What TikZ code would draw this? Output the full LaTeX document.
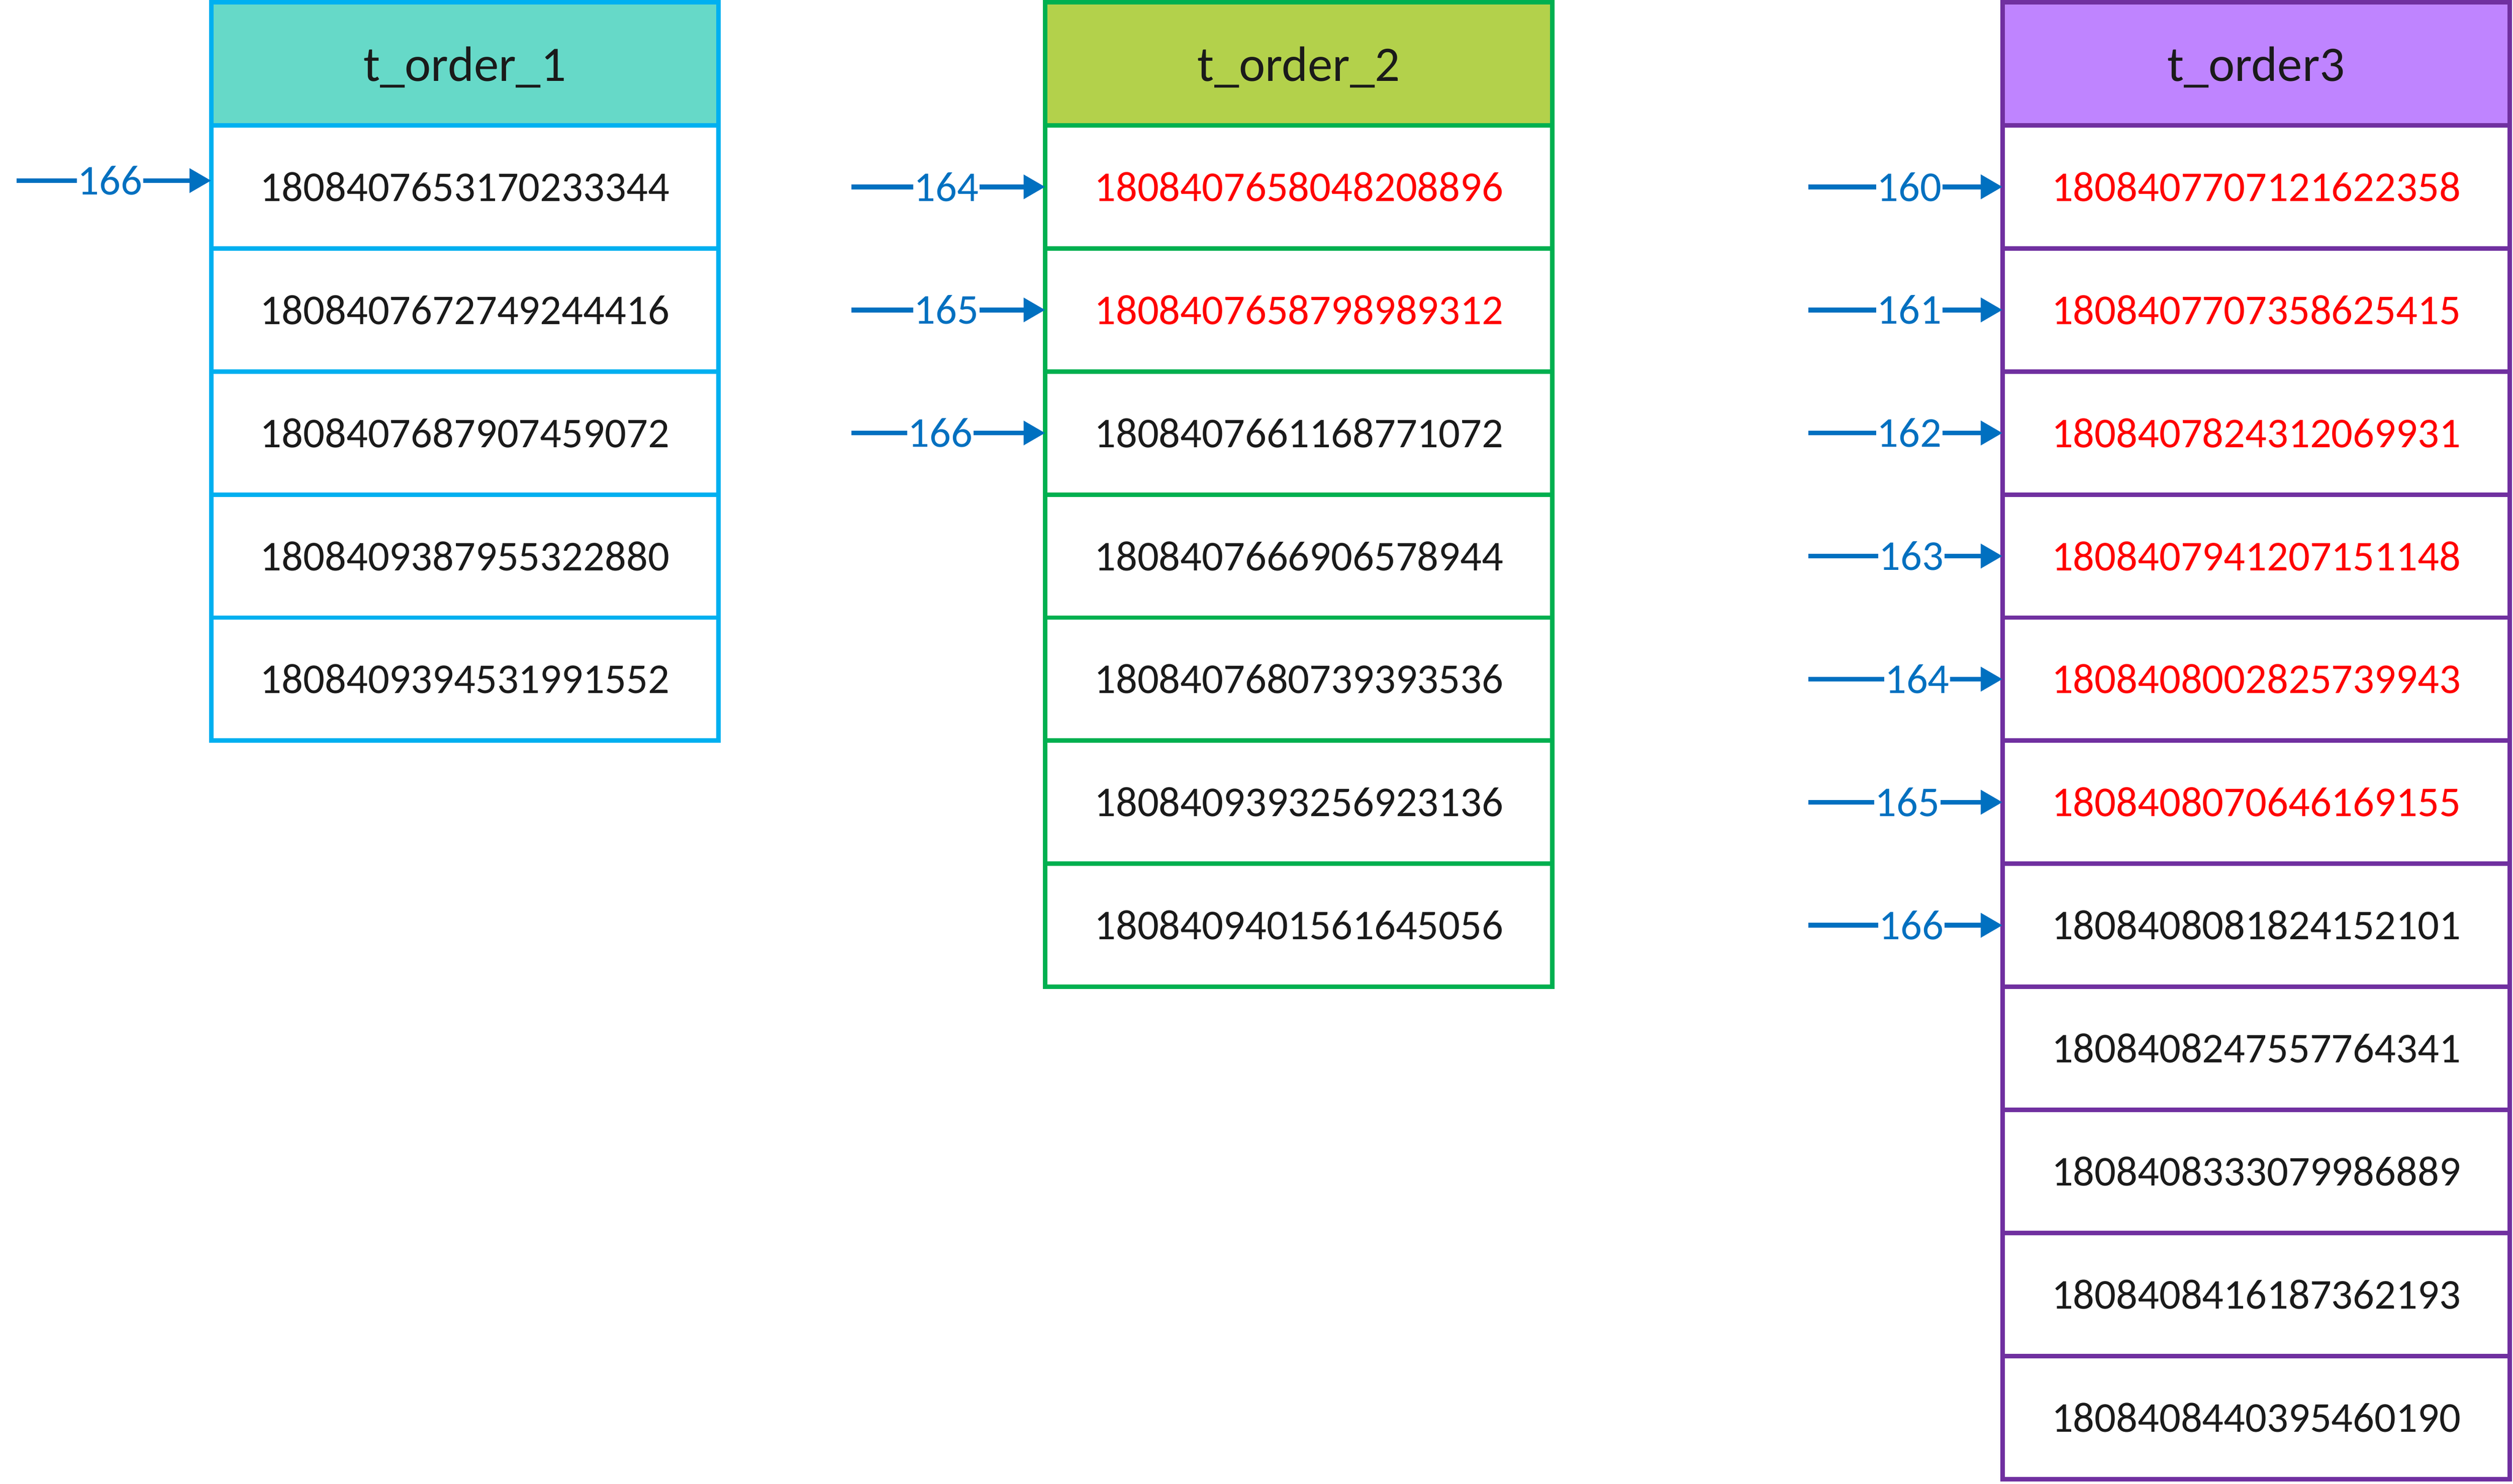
\documentclass[tikz,border=0pt]{standalone}
\usepackage{fontspec}
\setmainfont{Carlito}
\usetikzlibrary{arrows.meta}

\definecolor{tealhead}{RGB}{102,217,200}
\definecolor{bluerim}{RGB}{0,176,240}
\definecolor{limehead}{RGB}{179,209,75}
\definecolor{greenrim}{RGB}{0,176,80}
\definecolor{lilachead}{RGB}{191,132,255}
\definecolor{purplerim}{RGB}{112,48,160}
\definecolor{ptrblue}{RGB}{0,112,192}
\definecolor{inkblack}{RGB}{26,26,26}

\begin{document}
\begin{tikzpicture}[x=1pt, y=1pt,
  cell/.style={draw, line width=2.8pt, minimum width=316.5pt, minimum height=76.8pt,
    inner sep=0pt, outer sep=0pt, font=\fontsize{26.5}{30}\selectfont},
  head/.style={cell, text=inkblack, text depth=0pt, font=\fontsize{31}{35}\selectfont},
  ptr/.style={line width=3pt, draw=ptrblue, -{Triangle[length=13.5pt, width=14.6pt]}},
  lbl/.style={fill=white, inner sep=0.5pt, text=ptrblue, font=\fontsize{26.5}{30}\selectfont}]

\useasboundingbox (0,0) rectangle (1568,-926);

% t_order_1
\node at (290,-39.8) [head, fill=tealhead, draw=bluerim] (t1h) {t\_order\_1};
\foreach \c/\v [count=\i] in {inkblack/1808407653170233344, inkblack/1808407672749244416,
    inkblack/1808407687907459072, inkblack/1808409387955322880, inkblack/1808409394531991552}
  \node at (290,-39.8-76.8*\i) [cell, draw=bluerim, text=\c] (t1r\i) {\v};

% t_order_2
\node at (810.4,-39.8) [head, fill=limehead, draw=greenrim] (t2h) {t\_order\_2};
\foreach \c/\v [count=\i] in {red/1808407658048208896, red/1808407658798989312,
    inkblack/1808407661168771072, inkblack/1808407666906578944, inkblack/1808407680739393536,
    inkblack/1808409393256923136, inkblack/1808409401561645056}
  \node at (810.4,-39.8-76.8*\i) [cell, draw=greenrim, text=\c] (t2r\i) {\v};

% t_order3
\node at (1407.7,-39.8) [head, fill=lilachead, draw=purplerim] (t3h) {t\_order3};
\foreach \c/\v [count=\i] in {red/1808407707121622358, red/1808407707358625415,
    red/1808407824312069931, red/1808407941207151148, red/1808408002825739943,
    red/1808408070646169155, inkblack/1808408081824152101, inkblack/1808408247557764341,
    inkblack/1808408333079986889, inkblack/1808408416187362193, inkblack/1808408440395460190}
  \node at (1407.7,-39.8-76.8*\i) [cell, draw=purplerim, text=\c] (t3r\i) {\v};

% pointers
\coordinate (p1s) at (10.5,-112.7);
\draw[ptr] (p1s) -- node[lbl, pos=.48] {166} (p1s -| t1r1.west);

\foreach \r/\n/\p in {1/164/.49, 2/165/.49, 3/166/.46}
  \draw[ptr] ([xshift=-121pt]t2r\r.west) -- node[lbl, pos=\p] {\n} (t2r\r.west);

\foreach \r/\n/\p in {1/160/.52, 2/161/.52, 3/162/.52, 4/163/.53, 5/164/.56, 6/165/.51, 7/166/.53}
  \draw[ptr] ([xshift=-121pt]t3r\r.west) -- node[lbl, pos=\p] {\n} (t3r\r.west);

\end{tikzpicture}
\end{document}
